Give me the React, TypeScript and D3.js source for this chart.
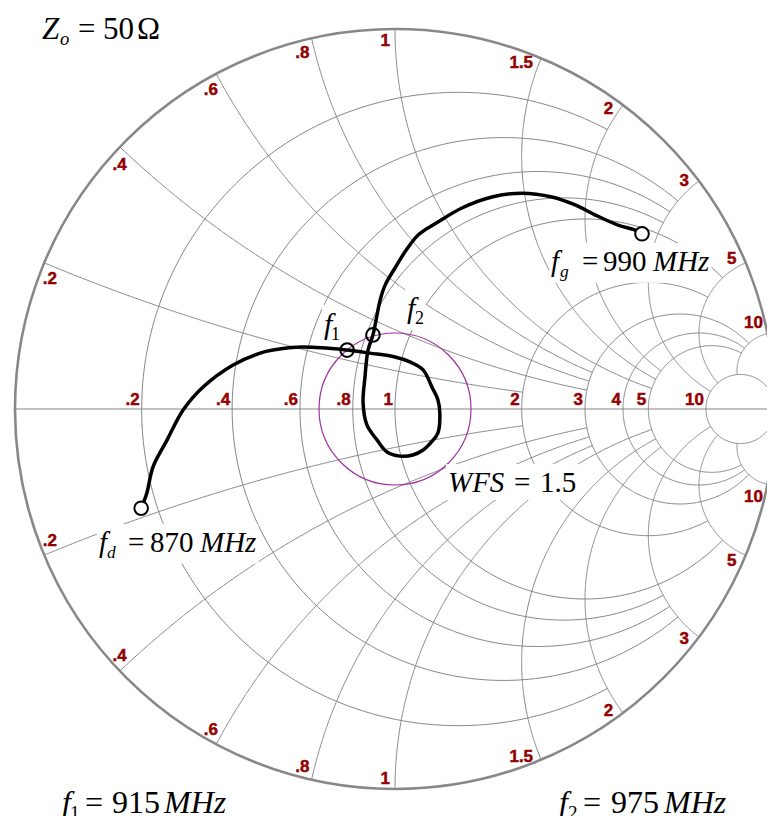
import React, { useEffect, useRef } from 'react';
import * as d3 from 'd3';

const WIDTH = 767;
const HEIGHT = 816;
const CX = 395;
const CY = 409;
const RADIUS = 380;

// Constant-resistance circles and the |x| up to which each one is drawn
const resistanceValues = [0.2, 0.4, 0.6, 0.8, 1, 2, 3, 4, 5, 10];
const resistanceReach = [2, 3, 3, 3, 5, 5, 10, 10, 10, Infinity];
const resistanceLabels = ['.2', '.4', '.6', '.8', '1', '2', '3', '4', '5', '10'];

// Constant-reactance arcs and the r up to which each one is drawn
const reactanceValues = [0.2, 0.4, 0.6, 0.8, 1, 1.5, 2, 3, 5, 10];
const reactanceReach = [2, 3, 3, 3, 5, 5, 5, 10, 10, 10];
const reactanceLabels = ['.2', '.4', '.6', '.8', '1', '1.5', '2', '3', '5', '10'];

// VSWR (WFS) circle
const wfs = 1.5;

// Reflection coefficient of the swept load, 870 MHz -> 990 MHz
const traceRe = [
  -0.668, -0.653, -0.637, -0.6, -0.558, -0.505, -0.426, -0.355, -0.321, -0.242,
  -0.126, -0.066, 0.0, 0.039, 0.074, 0.097, 0.113, 0.118, 0.113, 0.1,
  0.074, 0.047, 0.013, -0.021, -0.047, -0.074, -0.084, -0.079, -0.071, -0.058,
  -0.039, -0.026, 0.0, 0.026, 0.061, 0.113, 0.176, 0.255, 0.334, 0.413,
  0.474, 0.526, 0.587, 0.632, 0.65,
];
const traceIm = [
  -0.261, -0.221, -0.153, -0.082, -0.003, 0.058, 0.116, 0.147, 0.155, 0.163,
  0.155, 0.147, 0.137, 0.124, 0.103, 0.058, 0.024, -0.011, -0.063, -0.082,
  -0.108, -0.121, -0.124, -0.113, -0.082, -0.042, 0.016, 0.084, 0.155, 0.195,
  0.287, 0.326, 0.371, 0.413, 0.458, 0.492, 0.529, 0.558, 0.568, 0.558,
  0.537, 0.511, 0.484, 0.471, 0.461,
];

// Marked frequencies: f_d, f_1, f_2, f_g
const markerRe = [-0.668, -0.126, -0.058, 0.65];
const markerIm = [-0.261, 0.155, 0.195, 0.461];
const markerFilled = [true, false, false, true];

type Part = { t: string; dx: number; italic?: boolean; sub?: boolean };
type Equation = { x: number; y: number; size: number; boxed: boolean; parts: Part[] };

const equations: Equation[] = [
  {
    x: 42, y: 39, size: 31, boxed: false,
    parts: [
      { t: 'Z', dx: 0, italic: true },
      { t: 'o', dx: 18, italic: true, sub: true },
      { t: '=', dx: 36 },
      { t: '50', dx: 61 },
      { t: 'Ω', dx: 95 },
    ],
  },
  {
    x: 551, y: 271, size: 29, boxed: true,
    parts: [
      { t: 'f', dx: 0, italic: true },
      { t: 'g', dx: 9, italic: true, sub: true },
      { t: '=', dx: 31 },
      { t: '990', dx: 52 },
      { t: 'MHz', dx: 102, italic: true },
    ],
  },
  {
    x: 99, y: 552, size: 29, boxed: true,
    parts: [
      { t: 'f', dx: 0, italic: true },
      { t: 'd', dx: 8, italic: true, sub: true },
      { t: '=', dx: 29 },
      { t: '870', dx: 51 },
      { t: 'MHz', dx: 101, italic: true },
    ],
  },
  {
    x: 324, y: 334, size: 30, boxed: true,
    parts: [
      { t: 'f', dx: 0, italic: true },
      { t: '1', dx: 7, sub: true },
    ],
  },
  {
    x: 407, y: 318, size: 30, boxed: true,
    parts: [
      { t: 'f', dx: 0, italic: true },
      { t: '2', dx: 8, sub: true },
    ],
  },
  {
    x: 448, y: 492, size: 29, boxed: true,
    parts: [
      { t: 'WFS', dx: 0, italic: true },
      { t: '=', dx: 66 },
      { t: String(wfs), dx: 92 },
    ],
  },
  {
    x: 62, y: 813, size: 32, boxed: false,
    parts: [
      { t: 'f', dx: 0, italic: true },
      { t: '1', dx: 8, sub: true },
      { t: '=', dx: 23 },
      { t: '915', dx: 50 },
      { t: 'MHz', dx: 102, italic: true },
    ],
  },
  {
    x: 559, y: 813, size: 32, boxed: false,
    parts: [
      { t: 'f', dx: 0, italic: true },
      { t: '2', dx: 9, sub: true },
      { t: '=', dx: 24 },
      { t: '975', dx: 52 },
      { t: 'MHz', dx: 105, italic: true },
    ],
  },
];

// Reflection coefficient of the normalized impedance r + jx
function gammaOf(r: number, x: number): [number, number] {
  const d = (r + 1) * (r + 1) + x * x;
  return [(r * r + x * x - 1) / d, (2 * x) / d];
}

const SERIF = "'Liberation Serif', 'Times New Roman', Times, serif";
const SANS = "'Liberation Sans', Arial, Helvetica, sans-serif";
const LABEL_RED = '#920000';
const GRID = '#858585';
const LABEL_SIZE = 17;

export default function App() {
  const ref = useRef<SVGSVGElement>(null);

  useEffect(() => {
    if (!ref.current) return;
    const svg = d3.select(ref.current);
    svg.selectAll('*').remove();

    const gx = d3.scaleLinear().domain([-1, 1]).range([CX - RADIUS, CX + RADIUS]);
    const gy = d3.scaleLinear().domain([-1, 1]).range([CY + RADIUS, CY - RADIUS]);
    const line = d3.line<[number, number]>().x((d) => gx(d[0])).y((d) => gy(d[1]));
    const N = 360;

    const grid = svg.append('g').attr('fill', 'none').attr('stroke', GRID).attr('stroke-width', 1);

    // resistance circles
    resistanceValues.forEach((r, i) => {
      const c = r / (1 + r);
      const rho = 1 / (1 + r);
      const reach = resistanceReach[i];
      let p0 = 0;
      if (isFinite(reach)) {
        const [gr, gi] = gammaOf(r, reach);
        p0 = Math.atan2(gi, gr - c);
      }
      const pts = d3.range(N + 1).map((k) => {
        const p = p0 + ((2 * Math.PI - 2 * p0) * k) / N;
        return [c + rho * Math.cos(p), rho * Math.sin(p)] as [number, number];
      });
      grid.append('path').attr('d', line(pts));
    });

    // reactance arcs (both signs)
    const norm = (a: number) => (a + 2 * Math.PI) % (2 * Math.PI);
    reactanceValues.forEach((x, i) => {
      const k = 1 / x;
      const [a0r, a0i] = gammaOf(0, x);
      const [a1r, a1i] = gammaOf(reactanceReach[i], x);
      const s0 = norm(Math.atan2(a0i - k, a0r - 1));
      const s1 = norm(Math.atan2(a1i - k, a1r - 1));
      const pts = d3.range(N + 1).map((j) => {
        const s = s0 + ((s1 - s0) * j) / N;
        return [1 + k * Math.cos(s), k + k * Math.sin(s)] as [number, number];
      });
      [1, -1].forEach((sign) => {
        grid.append('path').attr('d', line(pts.map((p) => [p[0], sign * p[1]] as [number, number])));
      });
    });

    // real axis
    grid.append('line')
      .attr('x1', gx(-1)).attr('x2', gx(1))
      .attr('y1', gy(0)).attr('y2', gy(0));

    // outer rim
    svg.append('circle')
      .attr('cx', gx(0)).attr('cy', gy(0)).attr('r', gx(1) - gx(0))
      .attr('fill', 'none').attr('stroke', '#888').attr('stroke-width', 2.6);

    // resistance labels on the real axis
    const labels = svg.append('g').attr('fill', LABEL_RED);
    const styleLabel = (t: d3.Selection<SVGTextElement, unknown, null, undefined>) =>
      t.attr('font-family', SANS).attr('font-weight', 700).attr('font-size', LABEL_SIZE)
        .style('font-weight', '700')
        .attr('stroke', LABEL_RED).attr('stroke-width', 0.45);
    resistanceValues.forEach((r, i) => {
      labels.append('text')
        .call(styleLabel)
        .attr('x', gx((r - 1) / (r + 1)) - 2)
        .attr('y', gy(0) - 4)
        .attr('text-anchor', 'end')
        .text(resistanceLabels[i]);
    });

    // reactance labels inside the rim
    const rhoLabel = 369 / RADIUS;
    const digitW = LABEL_SIZE * 0.556;
    const dotW = LABEL_SIZE * 0.278;
    reactanceValues.forEach((x, i) => {
      const [gr, gi] = gammaOf(0, x);
      const theta = Math.atan2(gi, gr);
      const txt = reactanceLabels[i];
      const w = [...txt].reduce((s, ch) => s + (ch === '.' ? dotW : digitW), 0);
      const delta = (w / 2 + 5) / 369;
      [1, -1].forEach((sign) => {
        const a = sign * (theta + delta);
        labels.append('text')
          .call(styleLabel)
          .attr('x', gx(rhoLabel * Math.cos(a)))
          .attr('y', gy(rhoLabel * Math.sin(a)))
          .attr('dy', '0.36em')
          .attr('text-anchor', 'middle')
          .text(txt);
      });
    });

    // WFS circle
    const gWfs = (wfs - 1) / (wfs + 1);
    svg.append('circle')
      .attr('cx', gx(0)).attr('cy', gy(0)).attr('r', gx(gWfs) - gx(0))
      .attr('fill', 'none').attr('stroke', '#a030a0').attr('stroke-width', 1.2);

    // equation labels
    const eqs = svg.append('g').attr('font-family', SERIF).attr('fill', '#000');
    equations.forEach((eq) => {
      const grp = eqs.append('g');
      eq.parts.forEach((p) => {
        grp.append('text')
          .attr('x', eq.x + p.dx)
          .attr('y', eq.y + (p.sub ? eq.size * 0.2 : 0))
          .attr('font-size', p.sub ? eq.size * 0.6 : eq.size)
          .attr('font-style', p.italic ? 'italic' : 'normal')
          .text(p.t);
      });
      if (eq.boxed) {
        const b = (grp.node() as SVGGElement).getBBox();
        grp.insert('rect', ':first-child')
          .attr('x', b.x - 2).attr('y', b.y - 2)
          .attr('width', b.width + 4).attr('height', b.height + 4)
          .attr('fill', '#fff');
      }
    });

    // swept trace
    const trace = traceRe.map((re, i) => [re, traceIm[i]] as [number, number]);
    svg.append('path')
      .attr('d', line.curve(d3.curveCatmullRom.alpha(0.5))(trace))
      .attr('fill', 'none').attr('stroke', '#000').attr('stroke-width', 3.5)
      .attr('stroke-linejoin', 'round').attr('stroke-linecap', 'round');

    // frequency markers
    markerRe.forEach((re, i) => {
      svg.append('circle')
        .attr('cx', gx(re)).attr('cy', gy(markerIm[i])).attr('r', 6.8)
        .attr('fill', markerFilled[i] ? '#fff' : 'none')
        .attr('stroke', '#000').attr('stroke-width', 2);
    });
  }, []);

  return (
    <svg
      ref={ref}
      width={WIDTH}
      height={HEIGHT}
      style={{ position: 'absolute', left: 0, top: 0, display: 'block', background: '#fff' }}
    />
  );
}
